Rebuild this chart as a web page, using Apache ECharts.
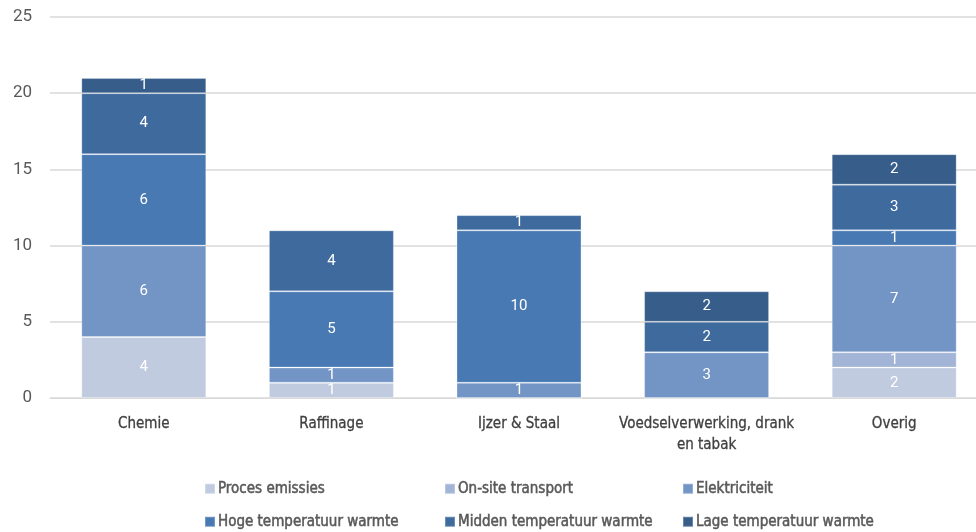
<!DOCTYPE html>
<html>
<head>
<meta charset="utf-8">
<script src="https://cdn.jsdelivr.net/npm/echarts@6/dist/echarts.min.js"></script>
<style>
html,body{margin:0;padding:0;background:#fff;overflow:hidden;width:976px;height:532px;}
#chart{width:988px;height:532px;}
</style>
</head>
<body>
<div id="chart"></div>
<script>
// Sectors and emission sources (Mton)
const categories = ['Chemie', 'Raffinage', 'Ijzer & Staal', 'Voedselverwerking, drank\nen tabak', 'Overig'];
const seriesNames = ['Proces emissies', 'On-site transport', 'Elektriciteit', 'Hoge temperatuur warmte', 'Midden temperatuur warmte', 'Lage temperatuur warmte'];
const procesEmissies = [4, 1, 0, 0, 2];
const onSiteTransport = [0, 0, 0, 0, 1];
const elektriciteit = [6, 1, 1, 3, 7];
const hogeTemp = [6, 5, 10, 0, 1];
const middenTemp = [4, 4, 1, 2, 3];
const lageTemp = [1, 0, 0, 2, 2];
const yTicks = [0, 5, 10, 15, 20, 25];

const colors = ['#c1cbe0', '#a3b5d6', '#7395c6', '#4879b3', '#3e6a9d', '#375d8a'];
const values = [procesEmissies, onSiteTransport, elektriciteit, hogeTemp, middenTemp, lageTemp];

const condensed = '"Liberation Sans Narrow", "DejaVu Sans Condensed", "Roboto Condensed", sans-serif';

const series = seriesNames.map((name, i) => ({
  name,
  type: 'bar',
  stack: 'total',
  barWidth: '66.6%',
  itemStyle: { color: colors[i], borderColor: 'rgba(255,255,255,0.25)', borderWidth: 1 },
  label: {
    show: true,
    position: 'inside',
    color: '#ffffff',
    fontFamily: 'Roboto, sans-serif',
    fontSize: 15,
    formatter: p => (p.value ? String(p.value) : '')
  },
  data: values[i]
}));

// Legend laid out in two rows of three
const legendCols = [204, 444, 682];
const legendRows = [481, 514];
const legends = seriesNames.map((name, i) => ({
  data: [name],
  left: legendCols[i % 3],
  top: legendRows[Math.floor(i / 3)],
  itemWidth: 10,
  itemHeight: 10,
  itemGap: 0,
  padding: 0,
  icon: 'rect',
  textStyle: {
    color: '#595959', fontSize: 15, fontFamily: condensed,
    textBorderColor: '#595959', textBorderWidth: 0.5,
    padding: [0, 0, 0, -2]
  },
  selectedMode: false
}));

const chart = echarts.init(document.getElementById('chart'));
chart.setOption({
  animation: false,
  color: colors,
  legend: legends,
  grid: { left: 50, right: 0, top: 17, height: 381, containLabel: false },
  xAxis: {
    type: 'category',
    data: categories,
    axisTick: { show: false },
    axisLine: { lineStyle: { color: '#d9d9d9', width: 1 } },
    axisLabel: {
      color: '#404040', fontSize: 15, fontFamily: condensed, margin: 16, lineHeight: 21, interval: 0,
      textBorderColor: '#404040', textBorderWidth: 0.3
    }
  },
  yAxis: {
    type: 'value',
    min: yTicks[0],
    max: yTicks[yTicks.length - 1],
    interval: 5,
    axisLine: { show: false },
    axisTick: { show: false },
    splitLine: { lineStyle: { color: '#d9d9d9', width: 1.5 } },
    axisLabel: { color: '#595959', fontSize: 17, fontFamily: 'Roboto, sans-serif', margin: 18 }
  },
  series
});
</script>
</body>
</html>
